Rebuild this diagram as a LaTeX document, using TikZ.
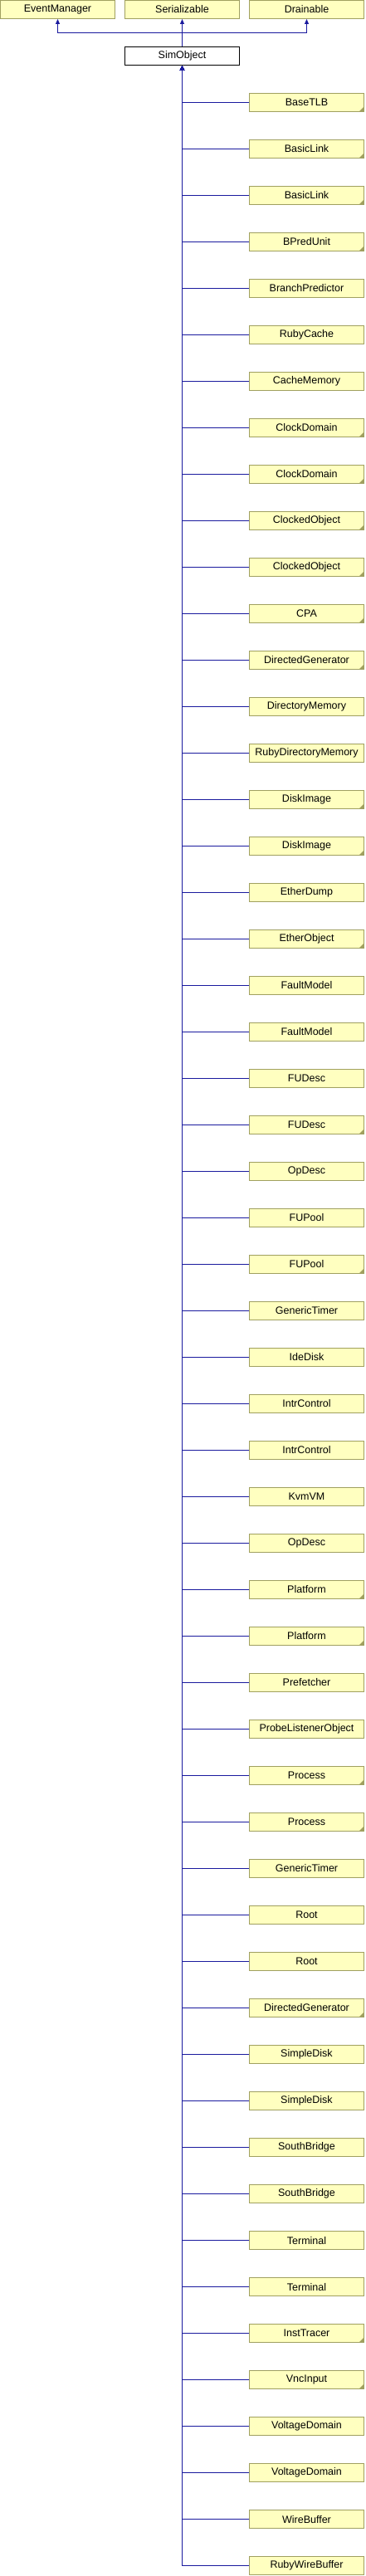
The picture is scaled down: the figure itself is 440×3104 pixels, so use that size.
\documentclass[tikz,border=0pt]{standalone}
\usepackage{fontspec}
\setmainfont{Liberation Sans}
\usepackage{tikz}
\usetikzlibrary{arrows.meta,positioning}
\definecolor{boxfill}{HTML}{FFFFC0}
\definecolor{boxline}{HTML}{A0A060}
\definecolor{edgeblue}{HTML}{1A1A9E}
\tikzstyle{classbox} = [draw=boxline, fill=boxfill, line width=1pt, minimum width=138pt, minimum height=22pt, inner sep=0pt, font=\fontsize{12.5}{15}\selectfont]
\tikzstyle{curbox} = [classbox, draw=black, fill=white]
\tikzstyle{inherit} = [draw=edgeblue, line width=1pt, -{Triangle[width=5pt,length=6pt]}]
\begin{document}
\begin{tikzpicture}[x=1pt,y=-1pt]
    \useasboundingbox (0,0) rectangle (440,3104);
    \node [classbox] (evm) at (69.5, 11.5) {EventManager};
    \node [classbox] (ser) at (219.5, 11.5) {Serializable};
    \node [classbox] (drn) at (369.5, 11.5) {Drainable};
    \node [curbox] (sim) at (219.5, 67.5) {SimObject};
    \draw [inherit] (sim.north) -- ++(0,-16) -| (evm.south);
    \draw [inherit] (sim.north) -- ++(0,-16) -| (ser.south);
    \draw [inherit] (sim.north) -- ++(0,-16) -| (drn.south);
    \foreach \name/\fold [count=\i] in {BaseTLB/1, BasicLink/1, BasicLink/1, BPredUnit/1,
        BranchPredictor/0, RubyCache/0, CacheMemory/0, ClockDomain/1, ClockDomain/1,
        ClockedObject/1, ClockedObject/1, CPA/1, DirectedGenerator/1, DirectoryMemory/0,
        RubyDirectoryMemory/0, DiskImage/1, DiskImage/1, EtherDump/0, EtherObject/1,
        FaultModel/0, FaultModel/0, FUDesc/0, FUDesc/1, OpDesc/0, FUPool/0, FUPool/1,
        GenericTimer/0, IdeDisk/0, IntrControl/0, IntrControl/0, KvmVM/0, OpDesc/0,
        Platform/1, Platform/1, Prefetcher/0, ProbeListenerObject/0, Process/1, Process/1,
        GenericTimer/0, Root/0, Root/0, DirectedGenerator/1, SimpleDisk/0, SimpleDisk/0,
        SouthBridge/0, SouthBridge/0, Terminal/0, Terminal/0, InstTracer/1, VncInput/1,
        VoltageDomain/0, VoltageDomain/0, WireBuffer/0, RubyWireBuffer/0} {
        \node [classbox] (c\i) at (369.5, 67.5+56*\i) {\name};
        \draw [inherit] (c\i.west) -| (sim.south);
        \ifnum\fold=1
            \fill [boxline] ([shift={(-1,-1)}]c\i.south east) -- ++(-5,0) -- ++(5,-5) -- cycle;
        \fi
    }
\end{tikzpicture}
\end{document}
